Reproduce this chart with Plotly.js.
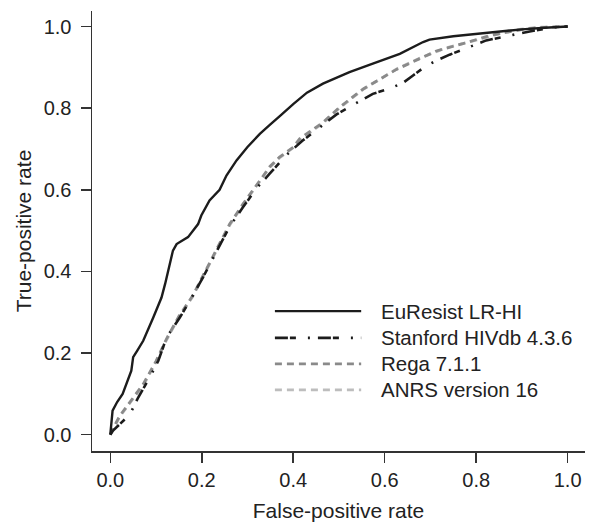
<!DOCTYPE html>
<html>
<head>
<meta charset="utf-8">
<script src="https://cdn.plot.ly/plotly-3.0.1.min.js"></script>
<style>html,body{margin:0;padding:0;background:#fff;}#chart{width:590px;height:523px;}</style>
</head>
<body>
<div id="chart"></div>
<script>
// Data
var euresistFPR = [0, 0.005, 0.015, 0.027, 0.046, 0.05, 0.059, 0.072, 0.094, 0.112, 0.12, 0.128, 0.137, 0.145, 0.17, 0.192, 0.199, 0.217, 0.239, 0.254, 0.276, 0.30, 0.327, 0.35, 0.363, 0.37, 0.40, 0.43, 0.465, 0.50, 0.523, 0.574, 0.633, 0.684, 0.698, 0.75, 0.83, 0.9, 0.95, 1.0];
var euresistTPR = [0, 0.059, 0.08, 0.10, 0.157, 0.19, 0.206, 0.23, 0.287, 0.336, 0.37, 0.41, 0.451, 0.467, 0.484, 0.516, 0.537, 0.574, 0.6, 0.635, 0.672, 0.705, 0.737, 0.76, 0.774, 0.78, 0.81, 0.838, 0.86, 0.877, 0.888, 0.909, 0.933, 0.962, 0.968, 0.976, 0.986, 0.993, 0.997, 1.0];

var stanfordFPR = [0, 0.006, 0.021, 0.043, 0.061, 0.086, 0.105, 0.123, 0.152, 0.174, 0.203, 0.232, 0.261, 0.29, 0.32, 0.349, 0.385, 0.42, 0.458, 0.494, 0.531, 0.574, 0.611, 0.64, 0.662, 0.691, 0.72, 0.742, 0.779, 0.822, 0.866, 0.917, 0.968, 1.0];
var stanfordTPR = [0, 0.01, 0.026, 0.05, 0.091, 0.14, 0.181, 0.238, 0.287, 0.328, 0.386, 0.45, 0.51, 0.557, 0.604, 0.64, 0.685, 0.72, 0.753, 0.784, 0.808, 0.835, 0.848, 0.862, 0.88, 0.904, 0.92, 0.931, 0.947, 0.966, 0.976, 0.988, 0.998, 1.0];

var regaFPR = [0, 0.006, 0.02, 0.043, 0.072, 0.1, 0.123, 0.15, 0.18, 0.203, 0.232, 0.261, 0.29, 0.32, 0.349, 0.37, 0.40, 0.414, 0.465, 0.501, 0.553, 0.626, 0.713, 0.771, 0.83, 0.902, 0.95, 1.0];
var regaTPR = [0, 0.015, 0.045, 0.08, 0.124, 0.18, 0.235, 0.29, 0.34, 0.39, 0.455, 0.516, 0.565, 0.612, 0.657, 0.68, 0.704, 0.725, 0.765, 0.802, 0.847, 0.895, 0.94, 0.958, 0.978, 0.993, 0.998, 1.0];

var anrsFPR = [0, 0.006, 0.02, 0.043, 0.072, 0.1, 0.123, 0.15, 0.18, 0.203, 0.232, 0.261, 0.29, 0.32, 0.349, 0.37, 0.40, 0.43, 0.465, 0.501, 0.553, 0.626, 0.676, 0.735, 0.786, 0.822, 0.873, 0.932, 1.0];
var anrsTPR = [0, 0.014, 0.043, 0.078, 0.12, 0.178, 0.232, 0.288, 0.338, 0.388, 0.452, 0.513, 0.563, 0.61, 0.655, 0.678, 0.703, 0.735, 0.763, 0.8, 0.846, 0.896, 0.922, 0.948, 0.962, 0.973, 0.99, 0.998, 1.0];

var seriesNames = ["EuResist LR-HI", "Stanford HIVdb 4.3.6", "Rega 7.1.1", "ANRS version 16"];
var tickVals = [0, 0.2, 0.4, 0.6, 0.8, 1.0];
var tickText = ["0.0", "0.2", "0.4", "0.6", "0.8", "1.0"];

var FONT = "Liberation Sans, Arial, Helvetica, sans-serif";
var styles = [
  {color: "#1c1c1c", width: 2.4, dash: "solid"},
  {color: "#1c1c1c", width: 2.6, dash: "13px,2px,6px,12px,2px,8px"},
  {color: "#8a8a8a", width: 2.8, dash: "7px,5px"},
  {color: "#bdbdbd", width: 2.8, dash: "7px,5px"}
];
var xs = [euresistFPR, stanfordFPR, regaFPR, anrsFPR];
var ys = [euresistTPR, stanfordTPR, regaTPR, anrsTPR];
var order = [3, 2, 1, 0];
var traces = order.map(function(i){
  return {x: xs[i], y: ys[i], type: "scatter", mode: "lines", name: seriesNames[i],
    line: {color: styles[i].color, width: styles[i].width, dash: styles[i].dash, shape: "linear"},
    showlegend: false, hoverinfo: "skip"};
});

// custom legend (long line samples)
var legRowsY = [0.318, 0.257, 0.198, 0.139];
var shapes = [], annotations = [];
for (var i = 0; i < seriesNames.length; i++) {
  shapes.push({type: "line", xref: "paper", yref: "paper", x0: 0.371, x1: 0.546, y0: legRowsY[i], y1: legRowsY[i],
    line: {color: styles[i].color, width: styles[i].width, dash: styles[i].dash}});
  annotations.push({xref: "paper", yref: "paper", x: 0.582, y: legRowsY[i], xanchor: "left", yanchor: "middle",
    text: seriesNames[i], showarrow: false, font: {family: FONT, size: 20.5, color: "#222"}});
}

var axisCommon = {
  range: [-0.04, 1.038], showgrid: false, zeroline: false, showline: true, linecolor: "#333", linewidth: 1.5,
  ticks: "outside", ticklen: 10, tickwidth: 1.5, tickcolor: "#333",
  tickvals: tickVals, ticktext: tickText,
  tickfont: {family: FONT, size: 20, color: "#222"},
  automargin: false, mirror: false
};
var layout = {
  width: 590, height: 523,
  margin: {l: 92, r: 5, t: 11, b: 72},
  paper_bgcolor: "#fff", plot_bgcolor: "#fff",
  showlegend: false,
  xaxis: Object.assign({}, axisCommon, {ticklabelstandoff: 0, title: {text: "False-positive rate", standoff: 14, font: {family: FONT, size: 21, color: "#222"}}}),
  yaxis: Object.assign({}, axisCommon, {ticklabelstandoff: 5, title: {text: "True-positive rate", standoff: 6, font: {family: FONT, size: 21, color: "#222"}}}),
  shapes: shapes,
  annotations: annotations
};
Plotly.newPlot("chart", traces, layout, {displayModeBar: false, staticPlot: true});
</script>
</body>
</html>
